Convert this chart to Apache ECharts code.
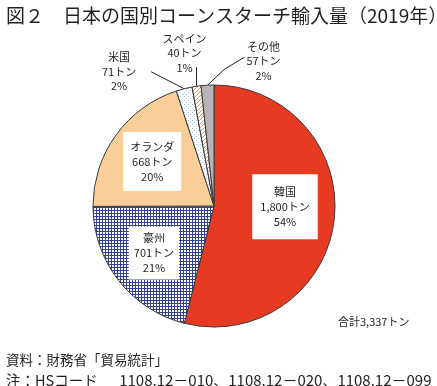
<!DOCTYPE html>
<html><head><meta charset="utf-8">
<script src="https://cdn.jsdelivr.net/npm/echarts@6/dist/echarts.min.js"></script>
<style>html,body{margin:0;padding:0;background:#fff}#c{width:437px;height:386px}</style>
</head><body><div id="c"></div>
<script>
// ---- data ----
const countries = ['韓国', '豪州', 'オランダ', '米国', 'スペイン', 'その他'];
const tons = [1800, 701, 668, 71, 40, 57];
const percents = ['54%', '21%', '20%', '2%', '1%', '2%'];
const titleText = '図２　日本の国別コーンスターチ輸入量（2019年）';
const totalText = '合計3,337トン';
const sourceText = '資料：財務省「貿易統計」';
const notePrefix = '注：HSコード　';
const noteCodes = '1108.12－010、1108.12－020、1108.12－099';

// ---- styling ----
const FONT = '"Noto Sans CJK JP", "Noto Sans", sans-serif';
const CX = 214, CY = 206, R = 121;

function pattern(size, draw) {
  const c = document.createElement('canvas');
  c.width = size; c.height = size;
  const g = c.getContext('2d');
  draw(g, size);
  return { image: c, repeat: 'repeat' };
}
const fillKorea = '#e63a22';
const fillAus = pattern(3, (g) => {
  g.fillStyle = '#ffffff'; g.fillRect(0, 0, 3, 3);
  g.fillStyle = '#34418f'; g.fillRect(0, 0, 3, 1); g.fillRect(0, 0, 1, 3);
});
const fillNL = pattern(2, (g) => {
  g.fillStyle = '#f8c688'; g.fillRect(0, 0, 2, 2);
  g.fillStyle = '#fbd7a8'; g.fillRect(0, 0, 1, 1); g.fillRect(1, 1, 1, 1);
});
const fillUS = pattern(4, (g) => {
  g.fillStyle = '#ffffff'; g.fillRect(0, 0, 4, 4);
  g.fillStyle = '#a9cbe6'; g.fillRect(0, 0, 1, 1); g.fillRect(2, 2, 1, 1);
});
const fillES = pattern(4, (g) => {
  g.fillStyle = '#ffffff'; g.fillRect(0, 0, 4, 4);
  g.fillStyle = '#d59a70';
  for (let i = 0; i < 4; i++) g.fillRect(i, 3 - i, 1, 1);
});
const fillOther = '#b5b5b5';
const fills = [fillKorea, fillAus, fillNL, fillUS, fillES, fillOther];
const insidePad = [[10, 8], [4, 5], [7, 7]];

const fmt = (n) => n.toLocaleString('en-US');

const data = countries.map((name, i) => {
  const inside = i < 3;
  return {
    name: name,
    value: tons[i],
    itemStyle: { color: fills[i] },
    label: inside ? {
      position: 'inside',
      backgroundColor: '#ffffff',
      padding: insidePad[i],
      lineHeight: 15
    } : {
      position: 'outside',
      lineHeight: 14.5
    }
  };
});

const txt = { fontFamily: FONT, fontWeight: 'normal', color: '#231f20' };

const chart = echarts.init(document.getElementById('c'), null, { renderer: 'canvas' });
chart.setOption({
  backgroundColor: '#ffffff',
  animation: false,
  title: [
    { text: titleText, left: 1, top: 1, textStyle: Object.assign({ fontSize: 19 }, txt) },
    { text: totalText, left: 333, top: 311, textStyle: Object.assign({ fontSize: 11 }, txt) },
    { text: sourceText, left: 1, top: 348, textStyle: Object.assign({ fontSize: 13.5 }, txt) },
    {
      text: '{j|' + notePrefix + '}{d|' + noteCodes + '}', left: 1, top: 368,
      textStyle: Object.assign({
        rich: {
          j: Object.assign({ fontSize: 14.5, padding: [0, 7, 0, 0] }, txt),
          d: Object.assign({ fontSize: 15 }, txt)
        }
      }, txt)
    }
  ],
  series: [{
    type: 'pie',
    center: [CX, CY],
    radius: R,
    startAngle: 90,
    clockwise: true,
    avoidLabelOverlap: false,
    itemStyle: { borderColor: '#3a3a3a', borderWidth: 1 },
    label: {
      fontFamily: FONT,
      fontSize: 11,
      color: '#231f20',
      formatter: (p) => p.name + '\n' + fmt(tons[p.dataIndex]) + 'トン\n' + percents[p.dataIndex]
    },
    labelLine: { show: true, length: 15, length2: 0, lineStyle: { color: '#231f20', width: 1 } },
    emphasis: { disabled: true },
    labelLayout: function (params) {
      const i = params.dataIndex;
      const lr = params.labelRect;
      if (i === 0) return { dx: 8, dy: -7 };
      if (i < 3) {
        const mx = lr.x + lr.width / 2, my = lr.y + lr.height / 2;
        return { dx: (mx - CX) * 0.2, dy: (my - CY) * 0.2 };
      }
      const p0 = params.labelLinePoints[0];
      if (i === 3) {
        const p1 = [p0[0] - 33, p0[1] - 17];
        return { x: p1[0] - 32, y: p1[1], align: 'center', verticalAlign: 'middle', labelLinePoints: [p0, p1] };
      }
      if (i === 4) {
        const p1 = [p0[0], p0[1] - 19];
        return { x: p1[0] - 12, y: p1[1] - 14, align: 'center', verticalAlign: 'middle', labelLinePoints: [p0, p1] };
      }
      const pm = [p0[0] + 17, p0[1] - 16];
      const p1 = [p0[0] + 37, p0[1] - 28];
      return { x: p1[0] + 19, y: p1[1] + 4, align: 'center', verticalAlign: 'middle', labelLinePoints: [p0, pm, p1] };
    },
    data: data
  }]
});
</script>
</body></html>
